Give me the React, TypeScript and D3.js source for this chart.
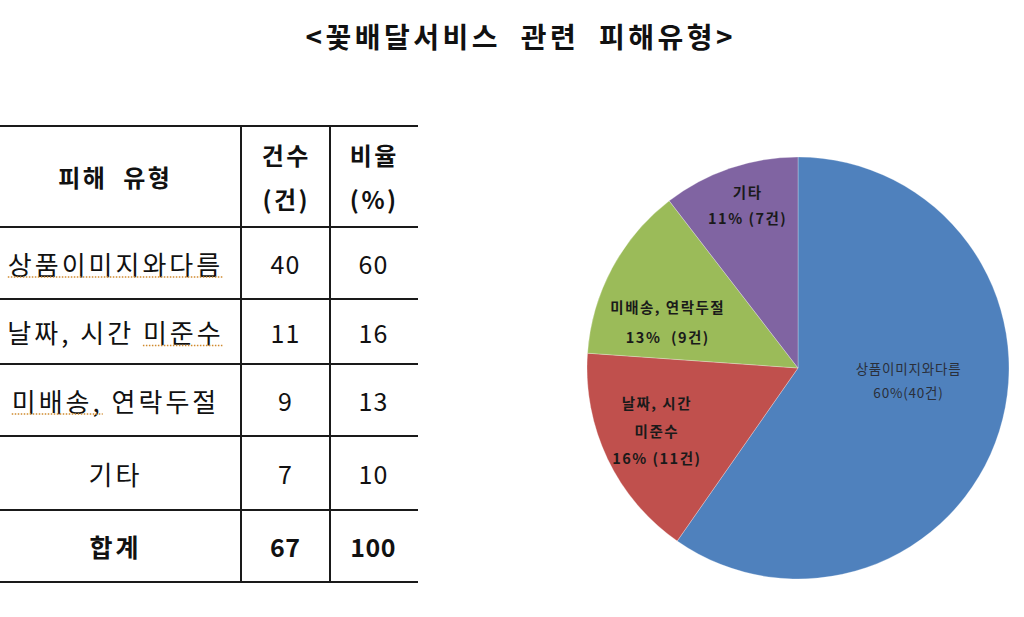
import React, { useEffect, useRef } from "react";
import * as d3 from "d3";

const TITLE = "<꽃배달서비스  관련  피해유형>";
const HEADERS = [["피해  유형"], ["건수", "(건)"], ["비율", "(%)"]];
const CATEGORIES = ["상품이미지와다름", "날짜, 시간 미준수", "미배송, 연락두절", "기타"];
const COUNTS = [40, 11, 9, 7];
const RATIOS = [60, 16, 13, 10];
const TOTAL_LABEL = "합계";
const TOTAL_COUNT = 67;
const TOTAL_RATIO = 100;
// spell-check style underline ranges: [rowIndex, startChar, endChar]
const SPELL_MARKS: [number, number, number][] = [
  [0, 0, 8],
  [1, 7, 10],
  [2, 0, 4],
];

const PIE_LABELS = [
  ["상품이미지와다름", "60%(40건)"],
  ["날짜, 시간", "미준수", "16% (11건)"],
  ["미배송, 연락두절", "13%  (9건)"],
  ["기타", "11% (7건)"],
];
const PIE_COLORS = ["#4F81BD", "#C0504D", "#9BBB59", "#8064A2"];
const LABEL_RADIUS = [0.525, 0.734, 0.658, 0.814];
const LABEL_ANGLE_SHIFT = [-11.3, 1.9, -8.85, 1.5];
const LABEL_LINE_HEIGHT = [24, 27.5, 30, 26];

const FONT = "'Noto Sans CJK KR', 'Noto Sans', sans-serif";

export default function App() {
  const ref = useRef<SVGSVGElement>(null);

  useEffect(() => {
    const svg = d3.select(ref.current);
    svg.selectAll("*").remove();

    const addText = (
      parent: d3.Selection<any, any, any, any>,
      x: number,
      y: number,
      txt: string,
      size: number,
      bold: boolean,
      spacing: number,
      fill = "#111"
    ) =>
      parent
        .append("text")
        .attr("x", x + spacing / 2)
        .attr("y", y)
        .attr("text-anchor", "middle")
        .attr("dominant-baseline", "central")
        .attr("font-family", FONT)
        .attr("font-weight", bold ? "bold" : "normal")
        .attr("font-size", size)
        .attr("letter-spacing", spacing)
        .attr("fill", fill)
        .style("white-space", "pre")
        .text(txt);

    // Title
    addText(svg, 519, 36, TITLE, 28, true, 3.5);

    // Table
    const colEdges = [0, 241, 330, 418];
    const colX = d3.scaleOrdinal<number, number>().domain([0, 1, 2]).range([114, 285, 373]);
    const rowEdges = [126, 227, 299, 364, 436, 510, 582];
    const table = svg.append("g");

    rowEdges.forEach((y) => {
      table
        .append("line")
        .attr("x1", colEdges[0])
        .attr("x2", colEdges[3])
        .attr("y1", y)
        .attr("y2", y)
        .attr("stroke", "#1a1a1a")
        .attr("stroke-width", 2);
    });
    [colEdges[1], colEdges[2]].forEach((x) => {
      table
        .append("line")
        .attr("x1", x)
        .attr("x2", x)
        .attr("y1", rowEdges[0])
        .attr("y2", rowEdges[rowEdges.length - 1])
        .attr("stroke", "#1a1a1a")
        .attr("stroke-width", 2);
    });

    // Header
    const hMid = (rowEdges[0] + rowEdges[1]) / 2;
    HEADERS.forEach((lines, c) => {
      lines.forEach((ln, i) => {
        const y = lines.length === 1 ? hMid : hMid + (i - 0.5) * 44;
        addText(table, colX(c), y, ln, 24, true, 2.5);
      });
    });

    // Rows
    const textNodes: SVGTextElement[] = [];
    CATEGORIES.forEach((cat, r) => {
      const y = (rowEdges[r + 1] + rowEdges[r + 2]) / 2;
      const cells = [cat, String(COUNTS[r]), String(RATIOS[r])];
      cells.forEach((val, c) => {
        const t = addText(table, colX(c), y, val, c === 0 ? 26 : 25, false, c === 0 ? 3 : 1);
        if (c === 0) textNodes.push(t.node() as SVGTextElement);
      });
    });
    // Total row
    {
      const y = (rowEdges[5] + rowEdges[6]) / 2;
      [TOTAL_LABEL, String(TOTAL_COUNT), String(TOTAL_RATIO)].forEach((val, c) => {
        addText(table, colX(c), y, val, 25, true, c === 0 ? 3 : 0.5);
      });
    }

    // Spell-check dotted underlines
    SPELL_MARKS.forEach(([r, s, e]) => {
      const node = textNodes[r];
      if (!node) return;
      try {
        const start = node.getStartPositionOfChar(s).x;
        const endPos = node.getEndPositionOfChar(e - 1).x;
        const y = (rowEdges[r + 1] + rowEdges[r + 2]) / 2 + 14;
        table
          .append("line")
          .attr("x1", start)
          .attr("x2", endPos)
          .attr("y1", y)
          .attr("y2", y)
          .attr("stroke", "#d08a2e")
          .attr("stroke-width", 1.5)
          .attr("stroke-dasharray", "1.5,1.5");
      } catch (err) {
        /* ignore */
      }
    });

    // Pie
    const cx = 798;
    const cy = 368;
    const R = 211;
    const pie = d3.pie<number>().sort(null).value((d) => d);
    const arcs = pie(COUNTS);
    const arc = d3.arc<d3.PieArcDatum<number>>().innerRadius(0).outerRadius(R);
    const g = svg.append("g").attr("transform", `translate(${cx},${cy})`);
    g.selectAll("path")
      .data(arcs)
      .join("path")
      .attr("d", arc as any)
      .attr("fill", (_, i) => PIE_COLORS[i])
      .attr("stroke", "rgba(255,255,255,0.35)")
      .attr("stroke-width", 0.8);

    arcs.forEach((a, i) => {
      const mid = (a.startAngle + a.endAngle) / 2 + (LABEL_ANGLE_SHIFT[i] * Math.PI) / 180;
      const rr = R * LABEL_RADIUS[i];
      const lx = Math.sin(mid) * rr;
      const ly = -Math.cos(mid) * rr;
      const lines = PIE_LABELS[i];
      const isMain = i === 0;
      const lh = LABEL_LINE_HEIGHT[i];
      lines.forEach((ln, j) => {
        addText(
          g,
          lx,
          ly + (j - (lines.length - 1) / 2) * lh,
          ln,
          isMain ? 13.5 : 14.5,
          !isMain,
          isMain ? 0.8 : 1.5,
          isMain ? "#2a2f3a" : "#1a1a1a"
        );
      });
    });
  }, []);

  return (
    <svg
      ref={ref}
      width={1024}
      height={617}
      style={{ position: "absolute", left: 0, top: 0, background: "#fff" }}
    />
  );
}
